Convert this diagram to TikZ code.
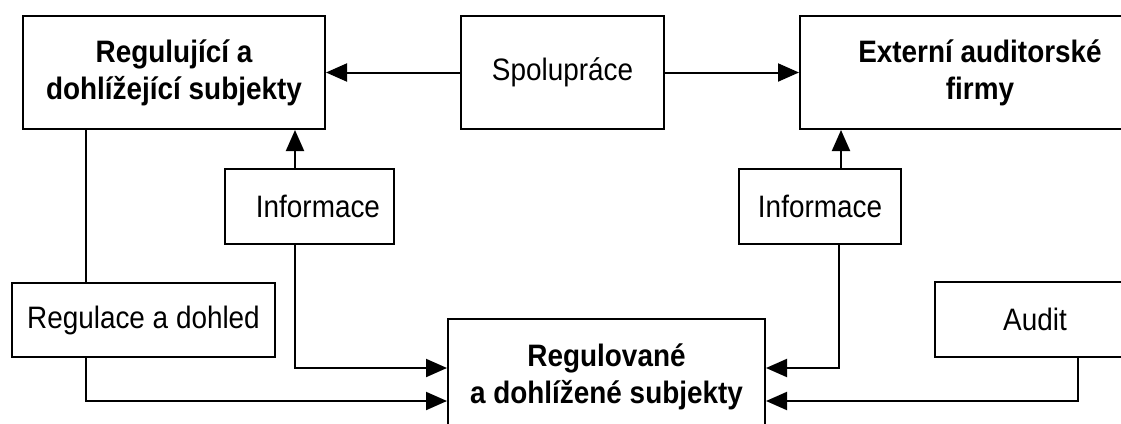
\documentclass[tikz,border=0pt]{standalone}
\usepackage{fontspec}
\setmainfont[FakeStretch=0.9]{Liberation Sans}
\usetikzlibrary{arrows.meta,positioning}

\begin{document}
\begin{tikzpicture}[
        x=1pt, y=1pt,
        node distance=38pt,
        block/.style={rectangle, draw, line width=2pt, align=center, inner sep=0pt, font=\fontsize{31}{37}\selectfont\bfseries},
        small/.style={rectangle, draw, line width=2pt, align=center, inner sep=0pt, font=\fontsize{31}{37}\selectfont},
        link/.style={line width=2pt},
        arrow/.style={-{Triangle[length=21pt, width=18pt]}, line width=2pt}
      ]
        \useasboundingbox (0,0) rectangle (1121,-423);
        \clip (0,0) rectangle (1121,-423);

        % Top row
        \node[block, minimum width=302pt, minimum height=113pt] (reg) at (174,-72.5) {Regulující a\\dohlížející subjekty};
        \node[small, minimum width=203pt, minimum height=113pt, right=134pt of reg] (spol) {Spolupráce};
        \node[block, minimum width=360pt, minimum height=113pt, right=134pt of spol] (ext) {Externí auditorské\\firmy};

        % Information boxes
        \node[small, minimum width=169pt, minimum height=75pt, text width=141pt, align=right, inner xsep=14pt, below=38pt of reg, xshift=135.5pt] (inforeg) {Informace};
        \node[small, minimum width=162pt, minimum height=75pt, below=38pt of ext, xshift=-160pt] (infoext) {Informace};

        % Bottom row
        \node[small, minimum width=263pt, minimum height=74pt, below=152pt of reg, xshift=-30.5pt] (regdoh) {Regulace a dohled};
        \node[small, minimum width=200pt, minimum height=75pt, below=151pt of ext, xshift=55pt] (audit) {Audit};
        \node[block, minimum width=317pt, minimum height=116pt, below=188pt of spol, xshift=44pt] (regul) {Regulované\\a dohlížené subjekty};

        % Arrows
        \draw[arrow] (spol) -- (reg);
        \draw[arrow] (spol) -- (ext);
        \draw[arrow] ([xshift=-14.5pt]inforeg.north) -- ([xshift=-14.5pt]inforeg.north |- reg.south);
        \draw[arrow] ([xshift=21pt]infoext.north) -- ([xshift=21pt]infoext.north |- ext.south);
        \draw[link] ([xshift=-57.5pt]regdoh.north) -- ([xshift=-57.5pt]regdoh.north |- reg.south);
        \draw[arrow] ([xshift=-14.5pt]inforeg.south) |- ([yshift=-50pt]regul.north west);
        \draw[arrow] ([xshift=-57.5pt]regdoh.south) |- ([yshift=-83pt]regul.north west);
        \draw[arrow] ([xshift=19pt]infoext.south) |- ([yshift=-50pt]regul.north east);
        \draw[arrow] ([xshift=43pt]audit.south) |- ([yshift=-83pt]regul.north east);
      \end{tikzpicture}
\end{document}
